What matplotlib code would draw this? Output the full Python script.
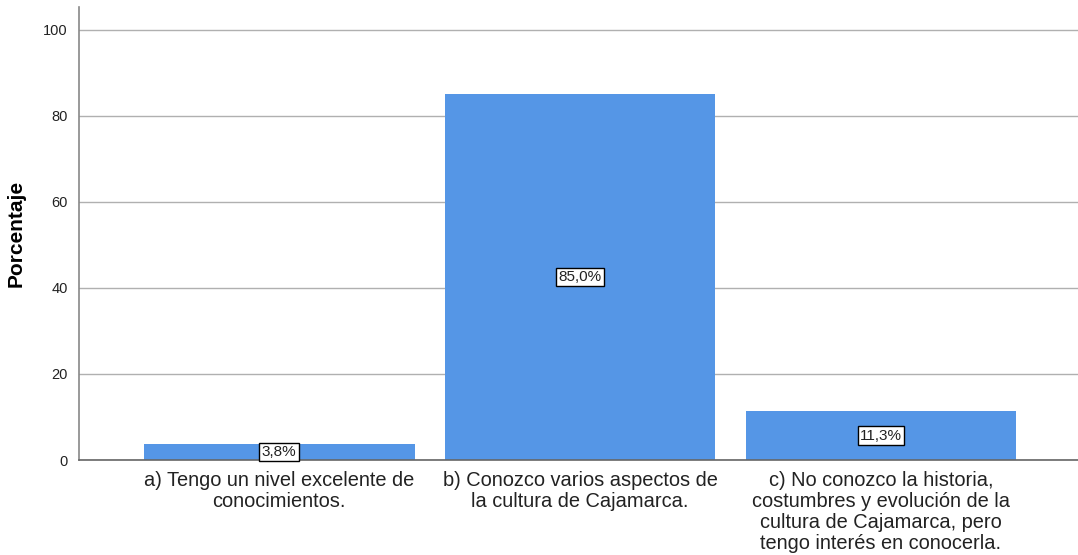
import matplotlib.pyplot as plt

plt.rcParams['font.family'] = ['Liberation Sans', 'DejaVu Sans']

# data
categorias = ["a) Tengo un nivel excelente de\nconocimientos.",
              "b) Conozco varios aspectos de\nla cultura de Cajamarca.",
              "c) No conozco la historia,\ncostumbres y evolución de la\ncultura de Cajamarca, pero\ntengo interés en conocerla."]
porcentajes = [3.8, 85.0, 11.3]
etiquetas = ["3,8%", "85,0%", "11,3%"]
yticks = [0, 20, 40, 60, 80, 100]

fig = plt.figure(figsize=(10.78, 5.55), dpi=100)
ax = fig.add_axes([79/1078, 1 - 460/555, 1 - 79/1078, (460 - 7)/555])

x = range(len(categorias))
ax.bar(x, porcentajes, width=0.9, color='#5596e6', zorder=2)

# labels in the middle of each bar
for i, v in enumerate(porcentajes):
    ax.text(i, v/2, etiquetas[i], ha='center', va='center', fontsize=11,
            color='#222222', zorder=3,
            bbox=dict(boxstyle='square,pad=0.15', fc='white', ec='black', lw=1))

ax.set_xlim(-0.665, 2.655)
ax.set_ylim(0, 105.3)
ax.set_yticks(yticks)
ax.set_xticks(list(x))
ax.set_xticklabels(categorias, fontsize=14.4, color='#222222', va='top',
                   linespacing=1.13)
ax.tick_params(axis='both', length=0)
ax.tick_params(axis='x', pad=8)
ax.tick_params(axis='y', pad=8, labelsize=10.5, labelcolor='#222222')

ax.grid(axis='y', color='#b0b0b0', lw=1, zorder=0)
for s in ['top', 'right']:
    ax.spines[s].set_visible(False)
ax.spines['left'].set_color('#888888')
ax.spines['bottom'].set_color('#666666')
ax.spines['left'].set_linewidth(1.2)
ax.spines['bottom'].set_linewidth(1.2)

ax.set_ylabel("Porcentaje", fontsize=15, fontweight='bold', labelpad=13)

fig.savefig("out.png", dpi=100)
